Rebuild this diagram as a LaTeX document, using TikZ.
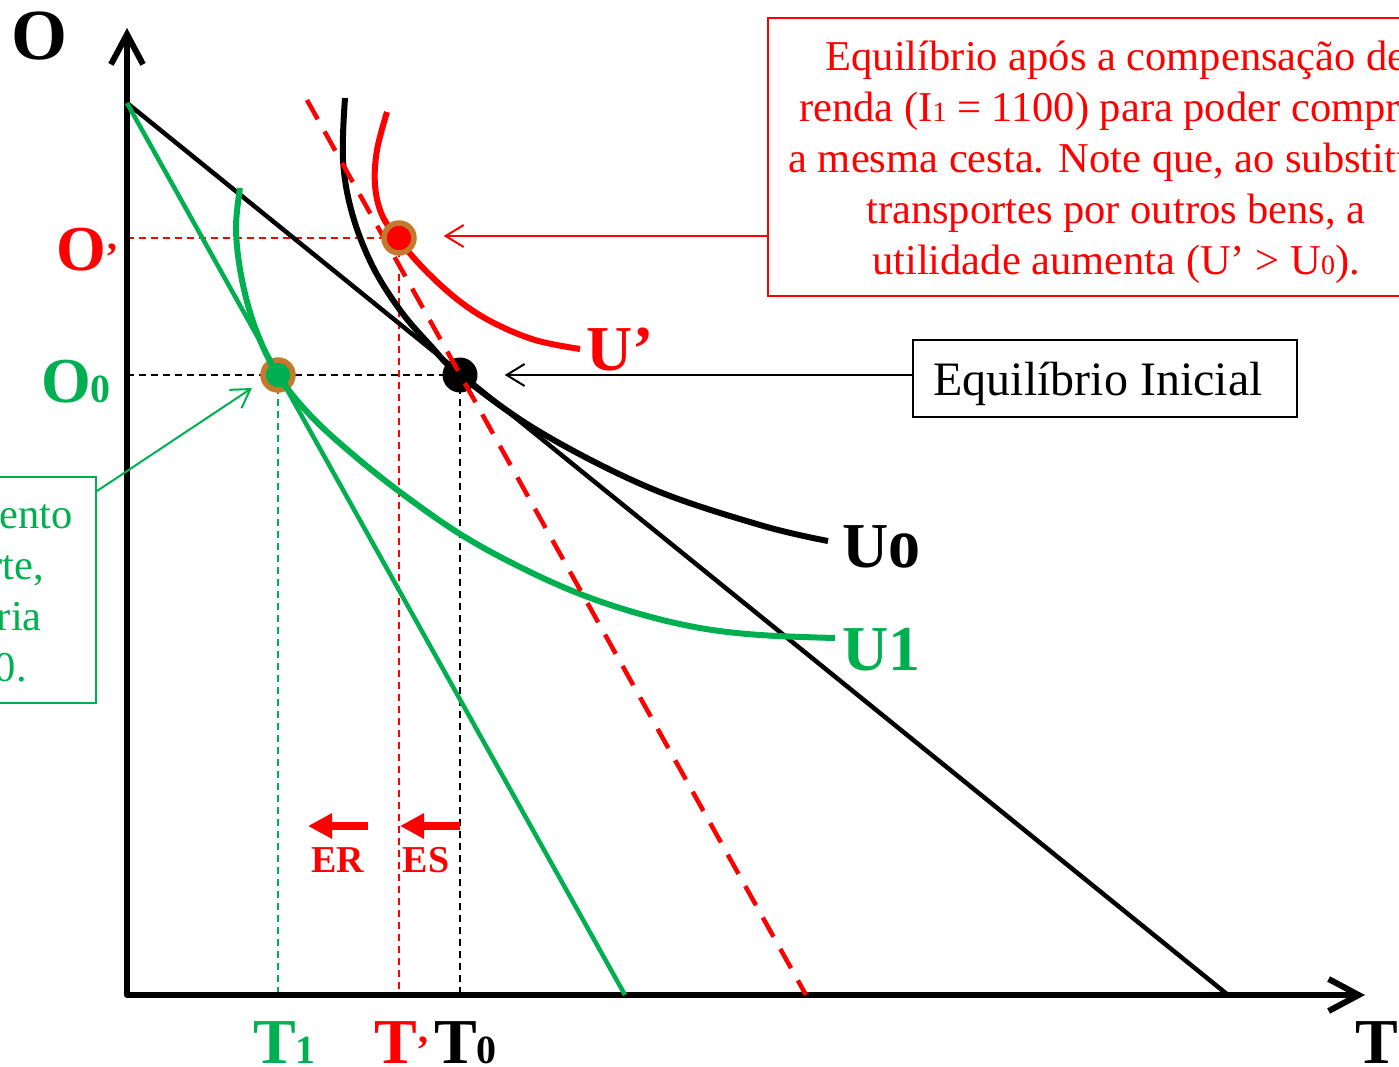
\documentclass[tikz,border=0pt]{standalone}
\usepackage{fontspec}
\setmainfont{Liberation Serif}
\usetikzlibrary{arrows.meta,calc}
\definecolor{pgreen}{RGB}{0,176,80}
\definecolor{ringc}{RGB}{196,122,44}
\newcommand\smf[1]{{\fontsize{28}{28}\selectfont #1}}
\newcommand\bsub[1]{{\fontsize{40}{40}\selectfont\bfseries #1}}
\tikzset{
  big/.style={font=\fontsize{64}{64}\selectfont\bfseries, inner sep=0pt},
  txt/.style={font=\fontsize{42.5}{51}\selectfont},
  guide/.style={line width=1.5pt, dash pattern=on 7pt off 5pt},
  icurve/.style={line width=6pt},
  bline/.style={line width=4.5pt},
  note/.style={-{Straight Barb[length=18pt,width=22pt]}, line width=2pt},
  eff/.style={red, line width=8pt, -{Triangle[length=24pt,width=24pt]}},
  dotnode/.style={circle, inner sep=0pt, minimum size=30pt, line width=5.5pt, draw=ringc},
}
\begin{document}
\begin{tikzpicture}[x=1pt,y=-1pt]
\useasboundingbox (0,0) rectangle (1399,1067);
\begin{scope}
\clip (0,0) rectangle (1399,1067);
% key coordinates
\coordinate (orig) at (127,995);
\coordinate (ytip) at (127,28);
\coordinate (xtip) at (1365,995);
\coordinate (otop) at (127,103);
\coordinate (tblack) at (1228,995);
\coordinate (tgreen) at (625,995);
\coordinate (rdA) at (307,100);
\coordinate (rdB) at (806,995);
\coordinate (eq0) at (460,375);
\coordinate (eq1) at (278,375);
\coordinate (eqr) at (399,238);

% guides
\draw[guide] (orig |- eq0) -- (eq0);
\draw[guide] (eq0) -- (eq0 |- orig);
\draw[guide, red] (orig |- eqr) -- (eqr);
\draw[guide, red] (eqr) -- (eqr |- orig);
\draw[guide, pgreen] (eq1) -- (eq1 |- orig);

% axes
\draw[line width=6pt, line join=round, {Straight Barb[length=30pt,width=32pt]}-{Straight Barb[length=30pt,width=32pt]}] (ytip) -- (orig) -- (xtip);

% initial equilibrium dot
\node[circle, fill=black, inner sep=0pt, minimum size=35pt] (e0) at (eq0) {};

% budget lines
\draw[bline] (otop) -- (tblack);
\node[dotnode, fill=pgreen] (e1) at (eq1) {};
\draw[bline, pgreen] (otop) -- (tgreen);

% indifference curves
\draw[icurve] plot[smooth, tension=0.6] coordinates {(345,98) (343,160) (352,213) (372,265) (400,310) (430,345) (460,375) (540,432) (650,488) (760,525) (828,541)};
\draw[icurve, pgreen] plot[smooth, tension=0.6] coordinates {(240,188) (236,230) (242,280) (256,330) (278,375) (310,415) (350,452) (400,492) (460,534) (520,567) (580,594) (640,614) (700,628) (760,635) (835,638)};
\draw[icurve, red] plot[smooth, tension=0.6] coordinates {(387,112) (377,150) (375,185) (382,215) (399,240) (425,270) (458,300) (492,322) (535,340) (580,349)};

% compensated budget line
\draw[bline, red, dash pattern=on 22pt off 14pt] (rdA) -- (rdB);

% new equilibrium dot
\node[dotnode, fill=red] (er) at (eqr) {};

% axis labels
\node[big, font=\fontsize{72}{72}\selectfont\bfseries, anchor=base west] (lo) at (11,60) {O};
\node[big, red, anchor=base west] (lor) at (56,270) {O\bsub{’}};
\node[big, pgreen, anchor=base west] (log) at (41,402) {O\bsub{0}};
\node[big, pgreen, anchor=base west, text depth=0pt] (lt1) at (253,1063) {T\bsub{1}};
\node[big, red, anchor=base west, text depth=0pt] (ltr) at (374,1063) {T\bsub{’}};
\node[big, anchor=base west, text depth=0pt] (lt0) at (434,1063) {T\bsub{0}};
\node[big, anchor=base west, text depth=0pt] (lt) at (1355,1063) {T};

% curve labels
\node[big, red, anchor=base west] (lur) at (586,370) {U’};
\node[big, anchor=base west] (lu0) at (842,567) {U\scalebox{1}[1.12]{o}};
\node[big, pgreen, anchor=base west] (lu1) at (842,670) {U1};

% ER / ES
\coordinate (erA) at (368,826);
\coordinate (erB) at (308,826);
\coordinate (esA) at (460,826);
\coordinate (esB) at (400,826);
\draw[eff] (erA) -- (erB);
\draw[eff] (esA) -- (esB);
\node[red, font=\fontsize{38}{38}\selectfont\bfseries, anchor=base] (ler) at (338,872) {ER};
\node[red, font=\fontsize{38}{38}\selectfont\bfseries, anchor=base] (les) at (426,872) {ES};

% red note box
\node[draw=red, line width=2pt, minimum width=696pt, minimum height=278pt] (rbox) at (1116,157) {};
\node[txt, red, align=center] (rtext) at (1116,162)
 {Equilíbrio após a compensação de\\
  renda (I\smf{1} = 1100) para poder comprar\\
  a mesma cesta. Note que, ao substituir\\
  transportes por outros bens, a\\
  utilidade aumenta (U’ > U\smf{0}).};
\draw[note, red] (rbox.west |- 0,236) -- ([xshift=27pt]er.east |- 0,236);

% initial equilibrium box
\node[draw=black, line width=1.5pt, minimum width=384pt, minimum height=77pt] (ebox) at (1105,378.5) {};
\node[font=\fontsize{48}{48}\selectfont] (etext) at (1098,384) {Equilíbrio Inicial};
\draw[note, black] (ebox.west |- e0) -- ([xshift=27pt]e0.east);

% green note box (clipped at left)
\node[draw=pgreen, line width=2pt, minimum width=300pt, minimum height=226pt] (gbox) at (-54,590) {};
\node[txt, pgreen, anchor=base east, inner sep=0pt] (g1) at (73,528) {ento};
\node[txt, pgreen, anchor=base east, inner sep=0pt] (g2) at (44,579) {rte,};
\node[txt, pgreen, anchor=base east, inner sep=0pt] (g3) at (42,630) {ria};
\node[txt, pgreen, anchor=base east, inner sep=0pt] (g4) at (27,681) {0.};
\coordinate (gtip) at (252,388);
\draw[note, pgreen] ($(gbox.north east)+(0,15)$) -- (gtip);
\end{scope}
\end{tikzpicture}
\end{document}
